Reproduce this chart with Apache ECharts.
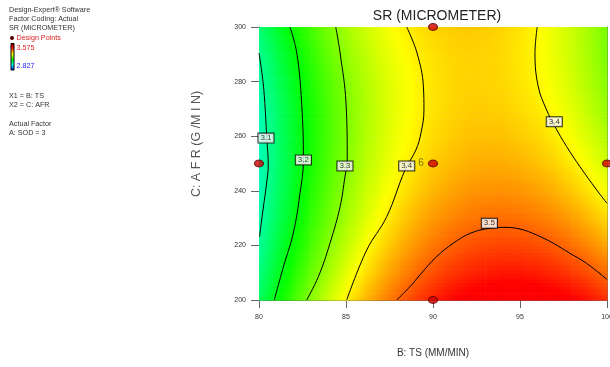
<!DOCTYPE html>
<html><head><meta charset="utf-8">
<script src="https://cdn.jsdelivr.net/npm/echarts@6/dist/echarts.min.js"></script>
<style>html,body{margin:0;padding:0;background:#fff;}#c{width:610px;height:367px;}</style>
</head><body><div id="c"></div>
<script>
// B: TS (mm/min) columns and C: AFR (g/min) rows of the response grid
var tsValues = [80,81,82,83,84,85,86,87,88,89,90,91,92,93,94,95,96,97,98,99,100];
var afrValues = [200,210,220,230,240,250,260,270,280,290,300];
// SR (micrometer), one row per AFR value
var sr200 = [3.131,3.193,3.250,3.303,3.352,3.396,3.436,3.472,3.503,3.530,3.553,3.571,3.585,3.595,3.600,3.601,3.598,3.590,3.578,3.562,3.541];
var sr210 = [3.108,3.168,3.224,3.276,3.324,3.367,3.406,3.440,3.470,3.496,3.518,3.535,3.548,3.556,3.560,3.560,3.555,3.546,3.533,3.516,3.494];
var sr220 = [3.089,3.149,3.204,3.254,3.301,3.342,3.380,3.413,3.442,3.467,3.487,3.503,3.515,3.522,3.525,3.523,3.518,3.508,3.493,3.474,3.451];
var sr230 = [3.076,3.134,3.188,3.237,3.282,3.323,3.359,3.391,3.419,3.443,3.462,3.476,3.487,3.493,3.495,3.492,3.485,3.474,3.458,3.438,3.414];
var sr240 = [3.067,3.124,3.176,3.225,3.269,3.308,3.343,3.374,3.401,3.423,3.441,3.454,3.464,3.468,3.469,3.465,3.457,3.444,3.428,3.406,3.381];
var sr250 = [3.063,3.119,3.170,3.217,3.260,3.298,3.332,3.362,3.387,3.408,3.425,3.437,3.445,3.449,3.448,3.443,3.434,3.420,3.402,3.380,3.353];
var sr260 = [3.064,3.119,3.169,3.215,3.256,3.293,3.326,3.355,3.379,3.399,3.414,3.425,3.432,3.434,3.433,3.426,3.416,3.401,3.382,3.358,3.330];
var sr270 = [3.070,3.123,3.172,3.217,3.257,3.293,3.325,3.352,3.375,3.394,3.408,3.418,3.424,3.425,3.422,3.414,3.403,3.386,3.366,3.341,3.312];
var sr280 = [3.081,3.133,3.181,3.224,3.263,3.298,3.329,3.355,3.376,3.394,3.407,3.416,3.420,3.420,3.416,3.407,3.394,3.377,3.355,3.329,3.299];
var sr290 = [3.096,3.147,3.194,3.236,3.274,3.308,3.337,3.362,3.382,3.399,3.410,3.418,3.421,3.420,3.415,3.405,3.391,3.372,3.349,3.322,3.290];
var sr300 = [3.117,3.167,3.212,3.253,3.290,3.322,3.350,3.374,3.393,3.408,3.419,3.425,3.427,3.425,3.418,3.407,3.392,3.372,3.348,3.320,3.287];
var srRows = [sr200,sr210,sr220,sr230,sr240,sr250,sr260,sr270,sr280,sr290,sr300];
var srMin = 2.827, srMax = 3.575;

// contour lines [TS, AFR]
var c31 = [[80,290.5],[80.23,280],[80.36,269.6],[80.44,260],[80.53,249.5],[80.44,242.9],[80.23,233],[80.03,223.1]];
var c32 = [[81.78,300],[82.17,290.5],[82.45,272.2],[82.55,251.3],[82.36,239.2],[81.97,224.5],[81.4,212.1],[80.88,200]];
var c33 = [[84.41,300],[84.66,290.5],[85.0,272.2],[85.07,251.3],[84.94,245.2],[84.66,234.2],[84.08,220.8],[83.41,208.5],[82.74,200]];
var c34a = [[88.49,300],[89.08,290.5],[89.45,278.1],[89.48,269.6],[89.31,261.2],[89.02,255],[88.39,247.6],[87.34,230.5],[86.19,218.3],[85.04,200]];
var c34b = [[95.99,300],[95.86,290.4],[96.05,278.1],[96.53,269.6],[97.01,263.5],[97.68,256.2],[98.45,248.8],[99.41,240.3],[100,235.4]];
var c35 = [[87.91,200],[88.68,204.9],[89.25,209.2],[90.21,215.9],[91.17,220.8],[92.13,224.4],[93.28,226.3],[94.04,226.6],[95.0,226.0],[95.96,223.8],[96.91,220.8],[97.87,217.1],[98.83,213.4],[100,207.5]];
var contourLabels = [[80.4,259.3,'3.1'],[82.55,251.3,'3.2'],[84.94,249.1,'3.3'],[88.49,249.1,'3.4'],[96.97,265.3,'3.4'],[93.24,228.1,'3.5']];
// design points [TS, AFR, replicate label]
var designPoints = [[80,250,''],[90,300,''],[90,250,'6'],[100,250,''],[90,200,'']];

// cells between grid nodes: [x0, y0, x1, y1, v(x0,y0), v(x1,y0), v(x0,y1), v(x1,y1)]
var cells = [];
for (var r = 0; r < afrValues.length - 1; r++) {
  for (var c = 0; c < tsValues.length - 1; c++) {
    cells.push([tsValues[c], afrValues[r], tsValues[c+1], afrValues[r+1],
      srRows[r][c], srRows[r][c+1], srRows[r+1][c], srRows[r+1][c+1]]);
  }
}
var colors = [[0,0,255],[0,255,255],[0,255,0],[255,255,0],[255,0,0]];
function colorOf(v) {
  var t = (v - srMin) / (srMax - srMin);
  t = Math.max(0, Math.min(1, t)) * (colors.length - 1);
  var i = Math.min(colors.length - 2, Math.floor(t)), f = t - i;
  var a = colors[i], b = colors[i+1];
  return 'rgb(' + Math.round(a[0]+(b[0]-a[0])*f) + ',' + Math.round(a[1]+(b[1]-a[1])*f) + ',' + Math.round(a[2]+(b[2]-a[2])*f) + ')';
}

function contourSeries(d) {
  return { type:'line', data:d, smooth:0.4, showSymbol:false, symbol:'none', silent:true, z:3,
    lineStyle:{color:'#000', width:1}, xAxisIndex:0, yAxisIndex:0 };
}

var chart = echarts.init(document.getElementById('c'), null, {renderer:'canvas'});
var font = 'Liberation Sans, Arial, sans-serif';
chart.setOption({
  animation:false,
  textStyle:{fontFamily:font},
  title:{text:'SR (MICROMETER)', left:432, top:4, textAlign:'center',
    textStyle:{fontSize:14, fontWeight:'normal', color:'#222', fontFamily:font}},
  grid:{left:259, right:3, top:27, bottom:67, outerBoundsMode:'none', containLabel:false},
  xAxis:[{type:'value', min:80, max:100, interval:5, position:'bottom',
      axisLine:{show:true, lineStyle:{color:'#666', width:1}},
      axisTick:{show:true, length:8, lineStyle:{color:'#666'}},
      axisLabel:{fontSize:7, color:'#333', margin:14, fontFamily:font, hideOverlap:false},
      splitLine:{show:false}},
    {type:'value', min:80, max:100, position:'top',
      axisLine:{show:true, lineStyle:{color:'#666', width:1}},
      axisTick:{show:false}, axisLabel:{show:false}, splitLine:{show:false}}],
  yAxis:[{type:'value', min:200, max:300, interval:20, position:'left',
      axisLine:{show:true, lineStyle:{color:'#666', width:1}},
      axisTick:{show:true, length:8, lineStyle:{color:'#666'}},
      axisLabel:{fontSize:7, color:'#333', margin:13, fontFamily:font},
      splitLine:{show:false}},
    {type:'value', min:200, max:300, position:'right',
      axisLine:{show:true, lineStyle:{color:'#666', width:1}},
      axisTick:{show:false}, axisLabel:{show:false}, splitLine:{show:false}}],
  series:[
    {type:'custom', data:cells, xAxisIndex:0, yAxisIndex:0, z:1, silent:true,
      encode:{x:[0,2], y:[1,3]},
      renderItem:function(params, api){
        var x0 = api.value(0), y0 = api.value(1), x1 = api.value(2), y1 = api.value(3);
        var v00 = api.value(4), v10 = api.value(5), v01 = api.value(6), v11 = api.value(7);
        var pTL = api.coord([x0, y1]);
        var pBR = api.coord([x1, y0]);
        var w = pBR[0] - pTL[0], h = pBR[1] - pTL[1];
        var n = 8, children = [];
        for (var k = 0; k < n; k++) {
          var s = 1 - (k + 0.5) / n;
          var vl = v00 + (v01 - v00) * s, vr = v10 + (v11 - v10) * s;
          var stops = [];
          for (var j = 0; j <= 4; j++) {
            stops.push({offset:j/4, color:colorOf(vl + (vr - vl) * j / 4)});
          }
          children.push({type:'rect',
            shape:{x:pTL[0], y:pTL[1] + k*h/n, width:w + 0.6, height:h/n + 0.6},
            style:{fill:new echarts.graphic.LinearGradient(0,0,1,0,stops)}});
        }
        return {type:'group', children:children};
      }},
    contourSeries(c31), contourSeries(c32), contourSeries(c33),
    contourSeries(c34a), contourSeries(c34b), contourSeries(c35),
    {type:'scatter', data:contourLabels, symbolSize:0, z:5, silent:true,
      label:{show:true, position:'inside', formatter:function(p){return p.data[2];},
        fontSize:8, color:'#000', backgroundColor:'#fff', borderColor:'#000', borderWidth:1,
        padding:[1,2,0,2], fontFamily:font}},
    {type:'scatter', data:designPoints, symbol:'circle', symbolSize:[9,7], z:6, silent:true,
      itemStyle:{color:'#cc0000', borderColor:'#550000', borderWidth:1},
      label:{show:true, position:'left', distance:4, formatter:function(p){return p.data[2];},
        fontSize:10, color:'#555511', fontFamily:font}}
  ],
  graphic:[
    {type:'text', x:9, y:10.5, style:{text:'Design-Expert® Software', fontSize:7.2, fill:'#333', verticalAlign:'middle', fontFamily:font}},
    {type:'text', x:9, y:19.5, style:{text:'Factor Coding: Actual', fontSize:7.2, fill:'#333', verticalAlign:'middle', fontFamily:font}},
    {type:'text', x:9, y:28.5, style:{text:'SR (MICROMETER)', fontSize:7.2, fill:'#333', verticalAlign:'middle', fontFamily:font}},
    {type:'circle', shape:{cx:12, cy:38, r:2}, style:{fill:'#550000'}},
    {type:'text', x:16.5, y:38, style:{text:'Design Points', fontSize:7.2, fill:'#dd2222', verticalAlign:'middle', fontFamily:font}},
    {type:'rect', shape:{x:11, y:43.5, width:3, height:26.5},
      style:{stroke:'#000', lineWidth:1, fill:new echarts.graphic.LinearGradient(0,0,0,1,[
        {offset:0, color:'#800000'},{offset:0.15, color:'#ff0000'},{offset:0.4, color:'#ffff00'},
        {offset:0.6, color:'#00ff00'},{offset:0.8, color:'#00ffff'},{offset:1, color:'#0000ff'}])}},
    {type:'text', x:16.5, y:48, style:{text:'3.575', fontSize:7.2, fill:'#ee2222', verticalAlign:'middle', fontFamily:font}},
    {type:'text', x:16.5, y:66.5, style:{text:'2.827', fontSize:7.2, fill:'#2222ff', verticalAlign:'middle', fontFamily:font}},
    {type:'text', x:9, y:96.5, style:{text:'X1 = B: TS', fontSize:7.2, fill:'#333', verticalAlign:'middle', fontFamily:font}},
    {type:'text', x:9, y:105.5, style:{text:'X2 = C: AFR', fontSize:7.2, fill:'#333', verticalAlign:'middle', fontFamily:font}},
    {type:'text', x:9, y:124.5, style:{text:'Actual Factor', fontSize:7.2, fill:'#333', verticalAlign:'middle', fontFamily:font}},
    {type:'text', x:9, y:133.5, style:{text:'A: SOD = 3', fontSize:7.2, fill:'#333', verticalAlign:'middle', fontFamily:font}},
    {type:'text', x:197, y:144, rotation:Math.PI/2,
      style:{text:'C: A F R (G /M I N)', fontSize:12.5, fill:'#555', align:'center', verticalAlign:'middle', fontFamily:font}},
    {type:'text', x:433, y:353,
      style:{text:'B: TS (MM/MIN)', fontSize:10, fill:'#333', align:'center', verticalAlign:'middle', fontFamily:font}}
  ]
});
</script></body></html>
